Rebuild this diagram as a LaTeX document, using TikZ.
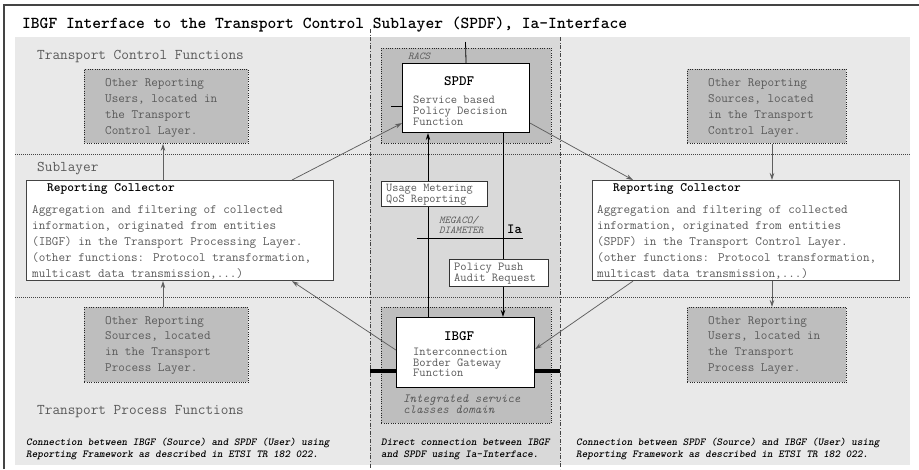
\documentclass[tikz,border=0pt]{standalone}
\usetikzlibrary{arrows.meta}

\definecolor{bglight}{HTML}{E9E9E9}
\definecolor{bgmid}{HTML}{D9D9D9}
\definecolor{bgbox}{HTML}{BEBEBE}
\definecolor{ink}{HTML}{5A5A5A}
\definecolor{frameln}{HTML}{444444}
\definecolor{arrowln}{HTML}{5F5F5F}

% typewriter face at a given size and line pitch
\newcommand{\tfs}[2]{\ttfamily\fontsize{#1}{#2}\selectfont}
% strut that fixes the first baseline 10pt below the top of a text block
\newcommand{\topstrut}{\rule{0pt}{10pt}}
% keep line pitch exact even for tightly set blocks
\setlength{\lineskiplimit}{-20pt}

\begin{document}
\begin{tikzpicture}[x=1pt,y=-1pt,
  line/.style={inner sep=0pt, anchor=base west},
  blk/.style={inner sep=0pt, anchor=north west, align=left},
  body/.style={font=\tfs{12.8}{#1}, text=ink},
  tight/.style={font=\tfs{12.2}{#1}, text=ink},
  head/.style={font=\bfseries\tfs{12.8}{14}, text=black},
  label/.style={font=\tfs{14.86}{17}, text=ink},
  caption/.style={font=\bfseries\itshape\tfs{10.7}{11.7}, text=black},
  small/.style={font=\itshape\tfs{10.5}{10}, text=ink},
  area/.style={inner sep=0pt, anchor=north west, fill=bgbox, draw=black!85,
    line width=0.8pt, dash pattern=on 0.8pt off 1.5pt},
  panel/.style={inner sep=0pt, anchor=north west, fill=white, draw=frameln, line width=1.1pt},
  func/.style={inner sep=0pt, anchor=north west, fill=white, draw=black, line width=1.1pt},
  tag/.style={inner sep=0pt, anchor=north west, fill=white, draw=black!80, line width=0.9pt},
  sep/.style={draw=frameln, line width=0.8pt, dash pattern=on 1pt off 1pt},
  zone/.style={draw=frameln, line width=0.8pt, dash pattern=on 4pt off 1.6pt on 1pt off 1.6pt},
  garrow/.style={draw=arrowln, line width=0.75pt, -{Stealth[length=7pt,width=4.5pt]}},
  barrow/.style={draw=black, line width=0.9pt, -{Stealth[length=7pt,width=4.5pt]}},
]
\useasboundingbox (0,0) rectangle (919,469);

% backgrounds
\fill[bglight] (15,37) rectangle (910,465);
\fill[bgmid] (370,37) rectangle (560,465);

% outer frame (top and left edges)
\draw[frameln, line width=1.5pt] (4,469) -- (4,5) -- (919,5);

% layer separators and column separators
\draw[sep] (15,154) -- (910,154);
\draw[sep] (15,297) -- (910,297);
\draw[zone] (370,29) -- (370,469);
\draw[zone] (560,37) -- (560,469);

% title and layer labels
\node[line, font=\bfseries\tfs{16.7}{19}] (title) at (22,28.8)
  {IBGF Interface to the Transport Control Sublayer (SPDF), Ia-Interface};
\node[line, label] (lctl) at (37,59.5) {Transport Control Functions};
\node[line, label] (lsub) at (37,171) {Sublayer};
\node[line, label] (lproc) at (37,414) {Transport Process Functions};

% other reporting users / sources
\node[area, minimum width=164pt, minimum height=74pt] (lusers) at (84,69) {};
\node[blk, body=15.8] (luserst) at (105,76.5)
  {\topstrut Other Reporting\\Users, located in\\the Transport\\Control Layer.};
\node[area, minimum width=164pt, minimum height=75pt] (lsrc) at (84,307) {};
\node[blk, body=15.9] (lsrct) at (105,313.8)
  {\topstrut Other Reporting\\Sources, located\\in the Transport\\Process Layer.};
\node[area, minimum width=159pt, minimum height=74pt] (rsrc) at (687,69) {};
\node[blk, body=15.8] (rsrct) at (708,76.5)
  {\topstrut Other Reporting\\Sources, located\\in the Transport\\Control Layer.};
\node[area, minimum width=159pt, minimum height=75pt] (rusers) at (687,307) {};
\node[blk, body=15.9] (ruserst) at (708,313.8)
  {\topstrut Other Reporting\\Users, located in\\the Transport\\Process Layer.};

% reporting collectors
\node[panel, minimum width=307pt, minimum height=100pt] (lcol) at (26,180) {};
\node[line, head] (lcolh) at (47,191.5) {Reporting Collector};
\node[blk, body=16] (lcolt) at (32,203)
  {\topstrut Aggregation and filtering of collected\\information, originated from entities\\(IBGF) in the Transport Processing Layer.\\(other functions: Protocol transformation,\\multicast data transmission,...)};
\node[panel, minimum width=307pt, minimum height=100pt] (rcol) at (592,180) {};
\node[line, head] (rcolh) at (613,191.5) {Reporting Collector};
\node[blk, body=16] (rcolt) at (597,203)
  {\topstrut Aggregation and filtering of collected\\information, originated from entities\\(SPDF) in the Transport Control Layer.\\(other functions: Protocol transformation,\\multicast data transmission,...)};

% RACS domain with SPDF
\node[area, minimum width=170pt, minimum height=95pt] (racs) at (381,48) {};
\node[line, small] (racst) at (408,59) {RACS};
\coordinate (spdfup) at (465.5,42);
\coordinate (stub) at (391,106);
\node[func, minimum width=127pt, minimum height=69pt] (spdf) at (402,63) {};
\draw[black, line width=0.8pt] (spdfup) -- (spdf.north);
\draw[black, line width=0.8pt] (stub) -- (stub -| spdf.west);
\node[line, font=\bfseries\tfs{14.3}{16}] (spdfh) at (444,85.5) {SPDF};
\node[blk, tight=10.8] (spdft) at (413,93.5)
  {\topstrut Service based\\Policy Decision\\Function};

% integrated service classes domain with IBGF
\node[area, minimum width=170pt, minimum height=116pt] (isc) at (381,307) {};
\coordinate (thL) at (370,371);
\coordinate (thR) at (560,371);
\node[func, minimum width=138pt, minimum height=70pt] (ibgf) at (396,317) {};
\draw[black, line width=3.2pt] (thL) -- (thL -| ibgf.west);
\draw[black, line width=3.2pt] (thR) -- (thR -| ibgf.east);
\node[line, font=\bfseries\tfs{14.3}{16}] (ibgfh) at (444,340.2) {IBGF};
\node[blk, tight=10.8] (ibgft) at (413,345)
  {\topstrut Interconnection\\Border Gateway\\Function};
\node[blk, font=\itshape\tfs{12.4}{10.9}, text=ink] (isct) at (403,392.5)
  {\topstrut Integrated service\\classes domain};

% Ia interface between IBGF and SPDF
\coordinate (umx) at (428,0);
\coordinate (ppx) at (503,0);
\draw[barrow] (umx |- ibgf.north) -- (umx |- spdf.south);
\draw[barrow] (ppx |- spdf.south) -- (ppx |- ibgf.north);
\coordinate (iaL) at (417,238);
\coordinate (iaR) at (523,238);
\draw[black, line width=0.8pt] (iaL) -- (iaR);
\node[tag, minimum width=106pt, minimum height=25pt] (usage) at (381,181) {};
\node[blk, font=\tfs{12}{10.6}, text=ink] (usaget) at (386,181.3)
  {\topstrut Usage Metering\\QoS Reporting};
\node[tag, minimum width=99pt, minimum height=27pt] (push) at (449,259) {};
\node[blk, tight=11] (pusht) at (454,260.3)
  {\topstrut Policy Push\\Audit Request};
\node[blk, small] (proto) at (439,213.2) {\topstrut MEGACO/\\DIAMETER};
\node[line, font=\bfseries\tfs{14}{16}] (ia) at (507,233.5) {Ia};

% reporting framework flows
\coordinate (lax) at (163,0);
\coordinate (rax) at (772,0);
\draw[garrow] (lax |- lcol.north) -- (lax |- lusers.south);
\draw[garrow] (lax |- lsrc.north) -- (lax |- lcol.south);
\draw[garrow] (rax |- rsrc.south) -- (rax |- rcol.north);
\draw[garrow] (rax |- rcol.south) -- (rax |- rusers.north);
\coordinate (d1) at (292,0);
\coordinate (d2) at (633,0);
\draw[garrow] (d1 |- lcol.north) -- ([yshift=10pt]spdf.south west);
\draw[garrow] ([yshift=10pt]spdf.south east) -- (d2 |- rcol.north);
\draw[garrow] ([yshift=38pt]ibgf.south west) -- (d1 |- lcol.south);
\draw[garrow] (d2 |- rcol.south) -- ([yshift=39pt]ibgf.south east);

% captions
\node[blk, caption] (capl) at (26,435.5)
  {\topstrut Connection between IBGF (Source) and SPDF (User) using\\Reporting Framework as described in ETSI TR 182 022.};
\node[blk, caption] (capm) at (381,435.5)
  {\topstrut Direct connection between IBGF\\and SPDF using Ia-Interface.};
\node[blk, caption] (capr) at (576,435.5)
  {\topstrut Connection between SPDF (Source) and IBGF (User) using\\Reporting Framework as described in ETSI TR 182 022.};
\end{tikzpicture}
\end{document}
